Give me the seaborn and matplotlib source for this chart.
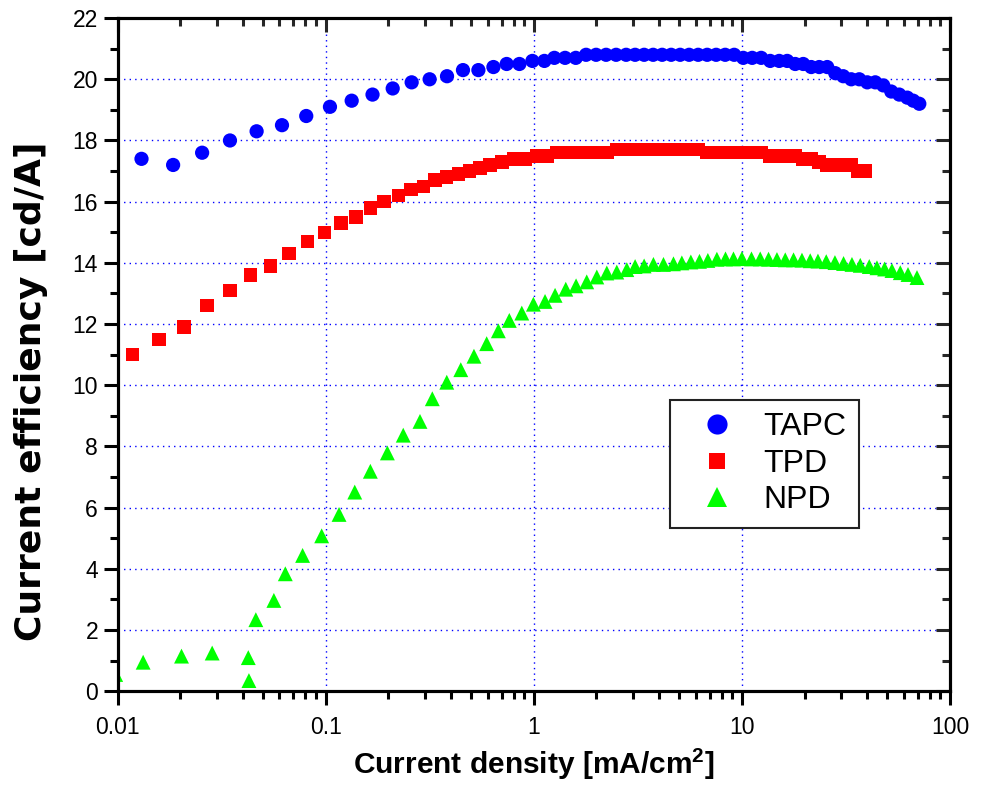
import numpy as np
import pandas as pd
import matplotlib
matplotlib.use("Agg")
import matplotlib.pyplot as plt
import matplotlib.ticker as mticker
from matplotlib.lines import Line2D
import seaborn as sns

# ---------------- data ----------------
tapc_j = [0.01304, 0.0185, 0.0255, 0.0347, 0.0466, 0.0617, 0.0807, 0.1049, 0.1334, 0.168,
          0.21, 0.259, 0.316, 0.383, 0.457, 0.542, 0.64, 0.741, 0.853, 0.985,
          1.125, 1.256, 1.414, 1.592, 1.784, 1.993, 2.226, 2.487, 2.779, 3.069,
          3.391, 3.746, 4.139, 4.573, 5.052, 5.580, 6.165, 6.811, 7.522, 8.314,
          9.183, 10.15, 11.21, 12.38, 13.68, 15.11, 16.51, 18.04, 19.71, 21.54,
          23.53, 25.71, 28.09, 30.69, 33.54, 36.64, 40.03, 43.74, 47.79, 52.21,
          57.05, 62.33, 66.60, 71.20]
tapc_ce = [17.4, 17.2, 17.6, 18.0, 18.3, 18.5, 18.8, 19.1, 19.3, 19.5,
           19.7, 19.9, 20.0, 20.1, 20.3, 20.3, 20.4, 20.5, 20.5, 20.6,
           20.6, 20.7, 20.7, 20.7, 20.8, 20.8, 20.8, 20.8, 20.8, 20.8,
           20.8, 20.8, 20.8, 20.8, 20.8, 20.8, 20.8, 20.8, 20.8, 20.8,
           20.8, 20.7, 20.7, 20.7, 20.6, 20.6, 20.6, 20.5, 20.5, 20.4,
           20.4, 20.4, 20.2, 20.1, 20.0, 20.0, 19.9, 19.9, 19.8, 19.6,
           19.5, 19.4, 19.3, 19.2]

tpd_j = [0.0118, 0.01585, 0.0209, 0.02697, 0.0347, 0.0436, 0.0544, 0.0668, 0.0819, 0.0985,
         0.1185, 0.1398, 0.1646, 0.1913, 0.2234, 0.257, 0.2946, 0.3354, 0.3817, 0.434,
         0.4902, 0.552, 0.6166, 0.702, 0.798, 0.908, 1.034, 1.155, 1.294, 1.446,
         1.615, 1.804, 2.015, 2.251, 2.515, 2.779, 3.069, 3.391, 3.746, 4.139,
         4.573, 5.052, 5.580, 6.165, 6.811, 7.522, 8.314, 9.183, 10.15, 11.21,
         12.38, 13.68, 15.11, 16.51, 18.04, 19.71, 21.54, 23.53, 25.71, 28.09,
         30.69, 33.54, 36.23, 39.2]
tpd_ce = [11.0, 11.5, 11.9, 12.6, 13.1, 13.6, 13.9, 14.3, 14.7, 15.0,
          15.3, 15.5, 15.8, 16.0, 16.2, 16.4, 16.5, 16.7, 16.8, 16.9,
          17.0, 17.1, 17.2, 17.3, 17.4, 17.4, 17.5, 17.5, 17.6, 17.6,
          17.6, 17.6, 17.6, 17.6, 17.7, 17.7, 17.7, 17.7, 17.7, 17.7,
          17.7, 17.7, 17.7, 17.7, 17.6, 17.6, 17.6, 17.6, 17.6, 17.6,
          17.6, 17.5, 17.5, 17.5, 17.5, 17.4, 17.4, 17.3, 17.2, 17.2,
          17.2, 17.2, 17.0, 17.0]

npd_j = [0.0098, 0.01328, 0.0203, 0.0285, 0.0425, 0.0428, 0.0462, 0.0564, 0.064, 0.0775,
         0.0957, 0.116, 0.138, 0.164, 0.198, 0.236, 0.284, 0.3255, 0.382, 0.446,
         0.516, 0.594, 0.676, 0.763, 0.876, 0.996, 1.133, 1.266, 1.425, 1.597,
         1.797, 2.009, 2.244, 2.506, 2.800, 3.069, 3.391, 3.758, 4.200, 4.691,
         5.147, 5.686, 6.256, 6.863, 7.584, 8.343, 9.112, 10.0, 11.12, 12.25,
         13.43, 14.74, 16.16, 17.71, 19.44, 21.30, 23.20, 25.43, 28.00, 30.80,
         33.80, 37.05, 40.93, 44.57, 48.49, 52.62, 57.69, 62.83, 69.40]
npd_ce = [0.55, 0.95, 1.15, 1.25, 1.1, 0.35, 2.34, 2.97, 3.84, 4.44,
          5.08, 5.78, 6.51, 7.19, 7.79, 8.37, 8.82, 9.56, 10.10, 10.51,
          10.95, 11.36, 11.78, 12.12, 12.36, 12.65, 12.74, 12.94, 13.14, 13.25,
          13.38, 13.54, 13.67, 13.70, 13.78, 13.88, 13.90, 13.95, 13.95, 13.97,
          14.0, 14.03, 14.05, 14.08, 14.12, 14.13, 14.13, 14.14, 14.13, 14.13,
          14.12, 14.11, 14.10, 14.10, 14.09, 14.07, 14.06, 14.04, 14.01, 13.98,
          13.95, 13.92, 13.88, 13.84, 13.80, 13.75, 13.68, 13.62, 13.52]

devices = ["TAPC", "TPD", "NPD"]
colors = ["#0000FF", "#FF0000", "#00FF00"]
markers = ["o", "s", "^"]
xtick_vals = [0.01, 0.1, 1, 10, 100]
xtick_labels = ["0.01", "0.1", "1", "10", "100"]
ytick_vals = list(range(0, 23, 2))

df = pd.concat([
    pd.DataFrame({"J": tapc_j, "CE": tapc_ce, "device": "TAPC"}),
    pd.DataFrame({"J": tpd_j, "CE": tpd_ce, "device": "TPD"}),
    pd.DataFrame({"J": npd_j, "CE": npd_ce, "device": "NPD"}),
], ignore_index=True)

# ---------------- style ----------------
sns.set_theme(style="white")
plt.rcParams["font.family"] = ["Liberation Sans", "DejaVu Sans"]
plt.rcParams["text.color"] = "black"
plt.rcParams["axes.labelcolor"] = "black"
plt.rcParams["mathtext.fontset"] = "custom"
plt.rcParams["mathtext.rm"] = "Liberation Sans"
plt.rcParams["mathtext.bf"] = "Liberation Sans:bold"

fig = plt.figure(figsize=(9.9, 7.86), dpi=100)
ax = fig.add_axes([0.1187, 0.1205, 0.8409, 0.8565])

sizes = {"TAPC": 105, "TPD": 95, "NPD": 115}
for dev, col, mk in zip(devices, colors, markers):
    sub = df[df["device"] == dev]
    sns.scatterplot(data=sub, x="J", y="CE", color=col, marker=mk, s=sizes[dev],
                    edgecolor="none", linewidth=0, ax=ax, legend=False, zorder=3)

ax.set_xscale("log")
ax.set_xlim(0.01, 100)
ax.set_ylim(0, 22)
ax.set_xticks(xtick_vals)
ax.set_xticklabels(xtick_labels)
ax.xaxis.set_minor_locator(mticker.LogLocator(base=10, subs=np.arange(2, 10)))
ax.xaxis.set_minor_formatter(mticker.NullFormatter())
ax.set_yticks(ytick_vals)
ax.yaxis.set_minor_locator(mticker.MultipleLocator(1))

ax.grid(True, which="major", color="#0000FF", linestyle=(0, (1, 3)), linewidth=1.0)
ax.set_axisbelow(True)

for sp in ax.spines.values():
    sp.set_linewidth(2.2)
    sp.set_color("black")

ax.tick_params(axis="both", which="major", direction="out", length=10, width=2.2,
               labelsize=16.5, color="black", labelcolor="black", pad=4)
ax.tick_params(axis="x", which="major", pad=8)
ax.tick_params(axis="both", which="minor", direction="out", length=5.5, width=2.2, color="black")
ax.tick_params(top=False, right=False)

# mirrored inward ticks on top and right
axt = ax.twiny()
axt.set_xscale("log")
axt.set_xlim(ax.get_xlim())
axt.set_xticks(xtick_vals)
axt.xaxis.set_minor_locator(mticker.LogLocator(base=10, subs=np.arange(2, 10)))
axt.tick_params(axis="x", which="major", direction="in", length=10, width=2.2, labeltop=False)
axt.tick_params(axis="x", which="minor", direction="in", length=5.5, width=2.2)
axt.xaxis.set_minor_formatter(mticker.NullFormatter())
axr = ax.twinx()
axr.set_ylim(ax.get_ylim())
axr.set_yticks(ytick_vals)
axr.yaxis.set_minor_locator(mticker.MultipleLocator(1))
axr.tick_params(axis="y", which="major", direction="in", length=10, width=2.2, labelright=False)
axr.tick_params(axis="y", which="minor", direction="in", length=5.5, width=2.2)
for a in (axt, axr):
    a.grid(False)
    for sp in a.spines.values():
        sp.set_linewidth(2.2)
        sp.set_color("black")

ax.set_xlabel("Current density [mA/cm$^\\mathbf{2}$]", fontsize=21.5, fontweight="bold", va="center")
ax.xaxis.set_label_coords(0.5, -0.108)
ax.set_ylabel("Current efficiency [cd/A]", fontsize=26, fontweight="bold", va="center",
              family=["DejaVu Sans"])
ax.yaxis.set_label_coords(-0.104, 0.446)

handles = [
    Line2D([], [], linestyle="none", marker="o", color=colors[0], markersize=14.5, markeredgewidth=0),
    Line2D([], [], linestyle="none", marker="s", color=colors[1], markersize=11.5, markeredgewidth=0),
    Line2D([], [], linestyle="none", marker="^", color=colors[2], markersize=14.5, markeredgewidth=0),
]
leg = axr.legend(handles, devices, loc="lower left", bbox_to_anchor=(0.664, 0.2425),
                 borderaxespad=0, fontsize=23, frameon=True, fancybox=False,
                 edgecolor="#222222", framealpha=1, labelspacing=0.2,
                 handletextpad=0.37, borderpad=0.4, handlelength=2.14)
leg.get_frame().set_linewidth(1.5)

fig.savefig("out.png", dpi=100)
